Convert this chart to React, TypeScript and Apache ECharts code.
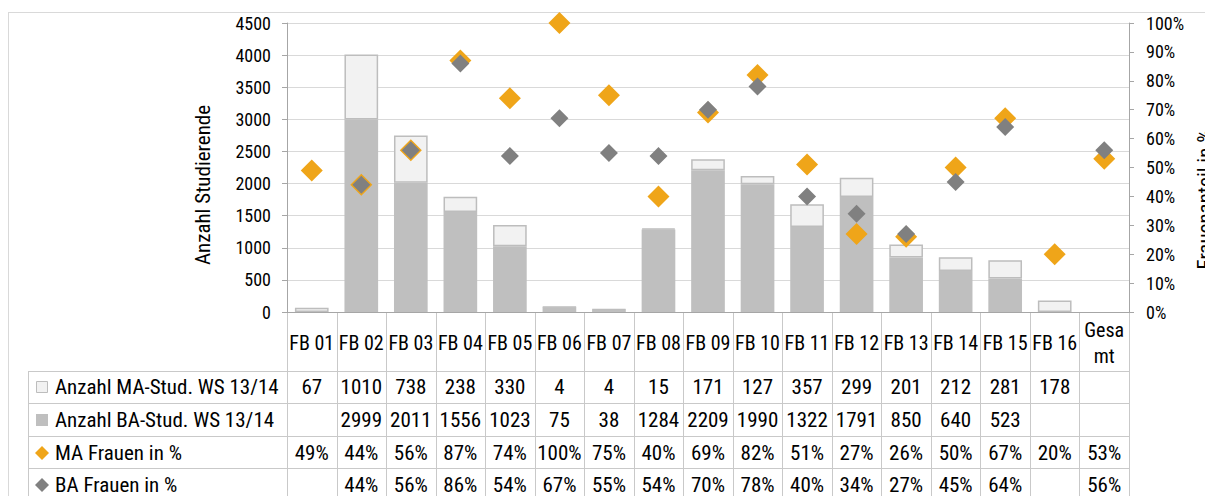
import React, { useEffect, useRef } from "react";
import * as echarts from "echarts";

const categories = ["FB 01","FB 02","FB 03","FB 04","FB 05","FB 06","FB 07","FB 08","FB 09","FB 10","FB 11","FB 12","FB 13","FB 14","FB 15","FB 16","Gesamt"];
const categoryLabels = ["FB 01","FB 02","FB 03","FB 04","FB 05","FB 06","FB 07","FB 08","FB 09","FB 10","FB 11","FB 12","FB 13","FB 14","FB 15","FB 16","Gesa\nmt"];
const maStud: (number | null)[] = [67,1010,738,238,330,4,4,15,171,127,357,299,201,212,281,178,null];
const baStud: (number | null)[] = [null,2999,2011,1556,1023,75,38,1284,2209,1990,1322,1791,850,640,523,null,null];
const maFrauen: (number | null)[] = [49,44,56,87,74,100,75,40,69,82,51,27,26,50,67,20,53];
const baFrauen: (number | null)[] = [null,44,56,86,54,67,55,54,70,78,40,34,27,45,64,null,56];
const seriesNames = ["Anzahl MA-Stud. WS 13/14","Anzahl BA-Stud. WS 13/14","MA Frauen in %","BA Frauen in %"];

const FONT = "'Roboto Condensed', 'DejaVu Sans Condensed', sans-serif";
const ORANGE = "#EFA519";
const DGRAY = "#808080";
const BAGRAY = "#BFBFBF";
const MALIGHT = "#F2F2F2";
const LINE = "#C9C9C9";

export default function App() {
  const ref = useRef<HTMLDivElement>(null);
  useEffect(() => {
    if (!ref.current) return;
    const chart = echarts.init(ref.current, null, { renderer: "svg" });
    const W = 1205, H = 496;
    const gl = 287, gr = 1129, gt = 23, gb = 312;
    const n = categories.length;
    const cw = (gr - gl) / n;
    const rowTops = [371, 403, 436, 468, 501];
    const legendLeft = 28;
    const g: any[] = [];
    // outer frame
    g.push({ type: "line", shape: { x1: 8, y1: 12.5, x2: W, y2: 12.5 }, style: { stroke: "#D9D9D9", lineWidth: 1 }, silent: true });
    g.push({ type: "line", shape: { x1: 8.5, y1: 12, x2: 8.5, y2: H }, style: { stroke: "#D9D9D9", lineWidth: 1 }, silent: true });
    // vertical table lines
    for (let i = 0; i <= n; i++) {
      const x = Math.round(gl + i * cw) + 0.5;
      g.push({ type: "line", shape: { x1: x, y1: gb, x2: x, y2: H }, style: { stroke: LINE, lineWidth: 1 }, silent: true });
    }
    g.push({ type: "line", shape: { x1: legendLeft + 0.5, y1: rowTops[0], x2: legendLeft + 0.5, y2: H }, style: { stroke: LINE, lineWidth: 1 }, silent: true });
    for (let r = 0; r < 4; r++) {
      const y = rowTops[r] + 0.5;
      g.push({ type: "line", shape: { x1: legendLeft, y1: y, x2: gr, y2: y }, style: { stroke: LINE, lineWidth: 1 }, silent: true });
    }
    // category labels
    categoryLabels.forEach((c, i) => {
      g.push({ type: "text", x: gl + (i + 0.5) * cw, y: 343, style: { text: c, font: `20px ${FONT}`, fill: "#000", align: "center", verticalAlign: "middle", lineHeight: 26 }, silent: true });
    });
    const rows = [
      maStud.map(v => (v == null ? "" : String(v))),
      baStud.map(v => (v == null ? "" : String(v))),
      maFrauen.map(v => (v == null ? "" : v + "%")),
      baFrauen.map(v => (v == null ? "" : v + "%")),
    ];
    const rowCenters = [387, 420, 453, 485];
    rows.forEach((row, r) => {
      const cy = rowCenters[r];
      row.forEach((t, i) => {
        if (!t) return;
        g.push({ type: "text", x: gl + (i + 0.5) * cw, y: cy, style: { text: t, font: `21px ${FONT}`, fill: "#000", align: "center", verticalAlign: "middle" }, silent: true });
      });
      g.push({ type: "text", x: 55, y: cy, style: { text: seriesNames[r], font: `21px ${FONT}`, fill: "#000", align: "left", verticalAlign: "middle" }, silent: true });
      const sx = 42;
      if (r === 0) g.push({ type: "rect", shape: { x: sx - 5.5, y: cy - 5.5, width: 11, height: 11 }, style: { fill: MALIGHT, stroke: "#BDBDBD", lineWidth: 1 }, silent: true });
      if (r === 1) g.push({ type: "rect", shape: { x: sx - 6, y: cy - 6, width: 12, height: 12 }, style: { fill: BAGRAY }, silent: true });
      if (r === 2) g.push({ type: "polygon", shape: { points: [[sx, cy - 7], [sx + 7, cy], [sx, cy + 7], [sx - 7, cy]] }, style: { fill: ORANGE }, silent: true });
      if (r === 3) g.push({ type: "polygon", shape: { points: [[sx, cy - 7], [sx + 7, cy], [sx, cy + 7], [sx - 7, cy]] }, style: { fill: DGRAY }, silent: true });
    });

    chart.setOption({
      animation: false,
      backgroundColor: "#fff",
      textStyle: { fontFamily: FONT },
      grid: { left: gl, right: W - gr, top: gt, bottom: H - gb, containLabel: false, outerBoundsMode: "none" },
      xAxis: {
        type: "category",
        data: categories,
        axisLine: { show: true, lineStyle: { color: "#A6A6A6" } },
        axisTick: { show: false },
        axisLabel: { show: false },
      },
      yAxis: [
        {
          type: "value", min: 0, max: 4500, interval: 500,
          name: "Anzahl Studierende", nameLocation: "middle", nameGap: 74, nameRotate: 90,
          nameTextStyle: { fontSize: 21, color: "#000", fontFamily: FONT, padding: [0, 35, 0, 0] },
          axisLine: { show: true, lineStyle: { color: "#A6A6A6" } },
          axisTick: { show: true, length: 5, lineStyle: { color: "#A6A6A6" } },
          axisLabel: { fontSize: 18, color: "#000", margin: 16, fontFamily: FONT, formatter: (v: number) => String(v) },
          splitLine: { show: true, lineStyle: { color: "#D9D9D9" } },
        },
        {
          type: "value", min: 0, max: 100, interval: 10,
          name: "Frauenanteil in %", nameLocation: "middle", nameGap: 64, nameRotate: 90,
          nameTextStyle: { fontSize: 21, color: "#000", fontFamily: FONT, verticalAlign: "top", padding: [0, 64, 0, 0] },
          axisLine: { show: true, lineStyle: { color: "#A6A6A6" } },
          axisTick: { show: true, length: 5, lineStyle: { color: "#A6A6A6" } },
          axisLabel: { fontSize: 18, color: "#000", margin: 17, formatter: "{value}%", fontFamily: FONT },
          splitLine: { show: false },
        },
      ],
      series: [
        {
          name: seriesNames[1], type: "bar", stack: "s", data: baStud, barWidth: "68%",
          itemStyle: { color: BAGRAY },
        },
        {
          name: seriesNames[0], type: "bar", stack: "s", data: maStud, barWidth: "68%",
          itemStyle: { color: MALIGHT, borderColor: "#BDBDBD", borderWidth: 1.5 },
        },
        {
          name: seriesNames[2], type: "scatter", yAxisIndex: 1, data: maFrauen, symbol: "diamond", symbolSize: 22,
          itemStyle: { color: ORANGE, opacity: 1 }, z: 5,
        },
        {
          name: seriesNames[3], type: "scatter", yAxisIndex: 1, data: baFrauen, symbol: "diamond", symbolSize: 18,
          itemStyle: { color: DGRAY, opacity: 1 }, z: 6,
        },
      ],
      graphic: g,
    });
    return () => chart.dispose();
  }, []);
  return <div ref={ref} style={{ width: 1205, height: 496, position: "absolute", left: 0, top: 0 }} />;
}
